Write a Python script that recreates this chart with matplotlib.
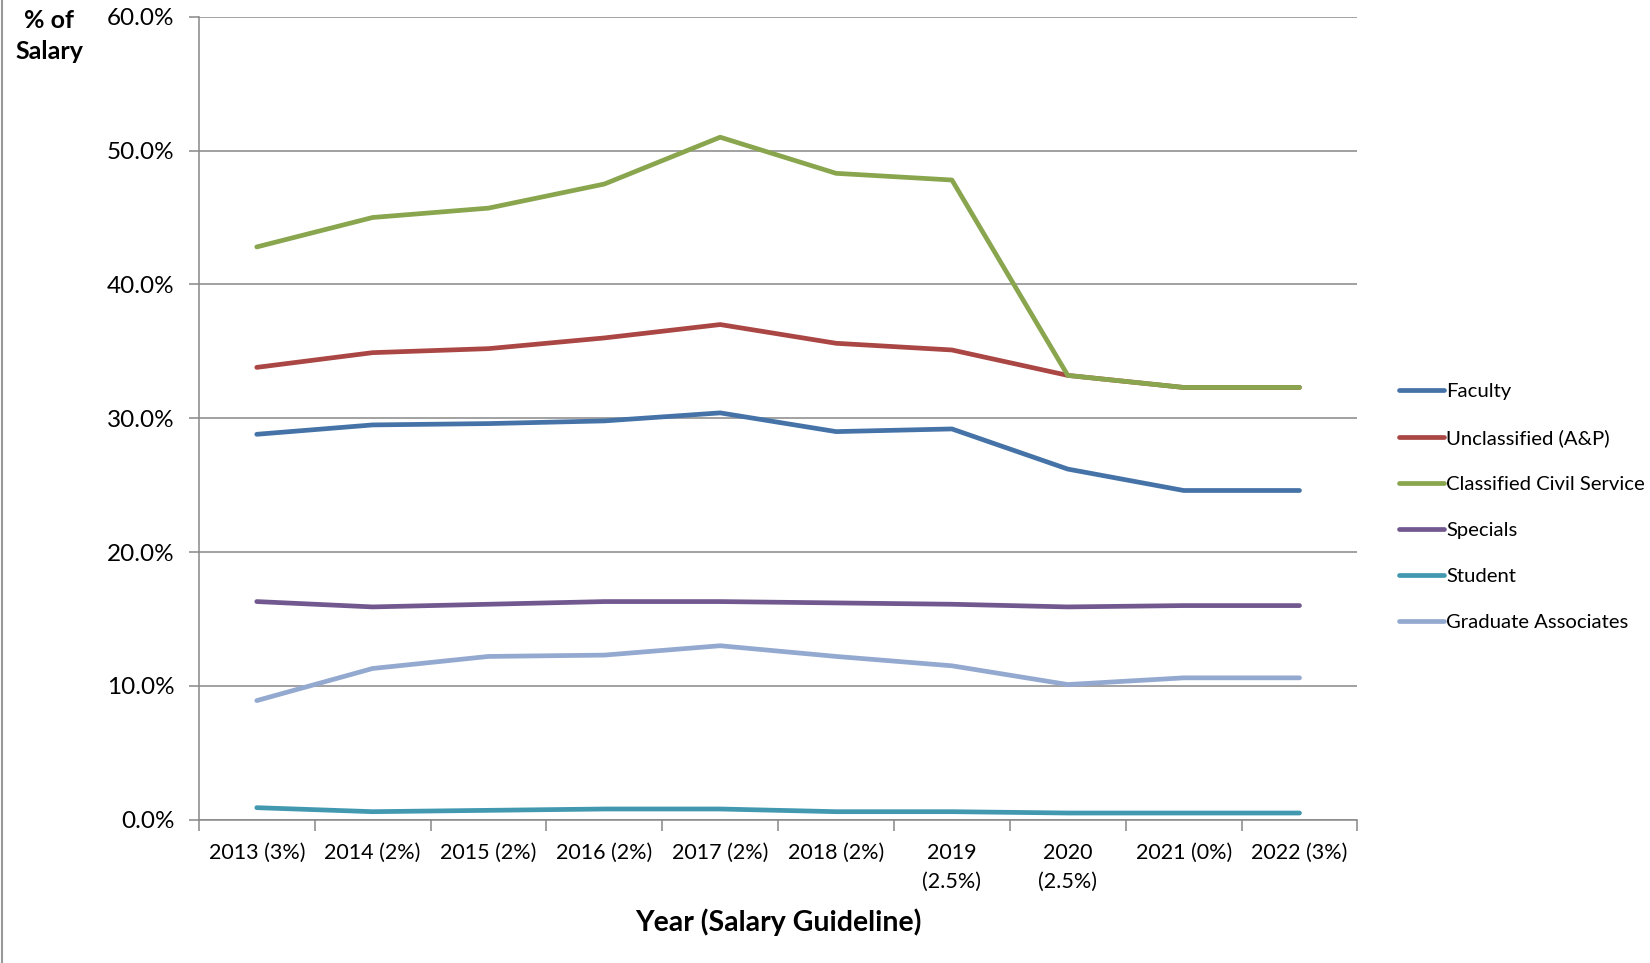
import matplotlib.pyplot as plt
from matplotlib.lines import Line2D
from matplotlib.ticker import FuncFormatter, FixedLocator
import numpy as np

plt.rcParams['font.family'] = ['Lato', 'DejaVu Sans']

years = ['2013 (3%)', '2014 (2%)', '2015 (2%)', '2016 (2%)', '2017 (2%)',
         '2018 (2%)', '2019\n(2.5%)', '2020\n(2.5%)', '2021 (0%)', '2022 (3%)']

faculty = [28.8, 29.5, 29.6, 29.8, 30.4, 29.0, 29.2, 26.2, 24.6, 24.6]
unclassified = [33.8, 34.9, 35.2, 36.0, 37.0, 35.6, 35.1, 33.2, 32.3, 32.3]
classified = [42.8, 45.0, 45.7, 47.5, 51.0, 48.3, 47.8, 33.2, 32.3, 32.3]
specials = [16.3, 15.9, 16.1, 16.3, 16.3, 16.2, 16.1, 15.9, 16.0, 16.0]
student = [0.9, 0.6, 0.7, 0.8, 0.8, 0.6, 0.6, 0.5, 0.5, 0.5]
grad_assoc = [8.9, 11.3, 12.2, 12.3, 13.0, 12.2, 11.5, 10.1, 10.6, 10.6]

series = [
    ('Faculty', faculty, '#4572A7'),
    ('Unclassified (A&P)', unclassified, '#AA4643'),
    ('Classified Civil Service', classified, '#89A54E'),
    ('Specials', specials, '#71588F'),
    ('Student', student, '#4198AF'),
    ('Graduate Associates', grad_assoc, '#93A9CF'),
]

fig = plt.figure(figsize=(16.5, 9.63), dpi=100)
ax = fig.add_axes([0.1205, 0.1488, 0.8227 - 0.1205, 0.9826 - 0.1488])

x = np.arange(len(years))
for name, vals, col in series:
    ax.plot(x, vals, color=col, linewidth=3.4, label=name,
            solid_capstyle='round', solid_joinstyle='round')

grid_col = '#888888'
ax.set_xlim(-0.5, len(years) - 0.5)
ax.set_ylim(0, 60)
ax.set_yticks(np.arange(0, 61, 10))
ax.yaxis.set_major_formatter(FuncFormatter(lambda v, p: f'{v:.1f}%'))
ax.yaxis.grid(True, color=grid_col, linewidth=1.1)
ax.set_axisbelow(True)

# category labels centred, tick marks between categories
ax.set_xticks(x)
ax.set_xticklabels(years, linespacing=1.55)
ax.xaxis.set_minor_locator(FixedLocator(np.arange(-0.5, len(years), 1.0)))
ax.tick_params(axis='x', which='major', length=0, pad=17, labelsize=15.5)
ax.tick_params(axis='x', which='minor', length=8, width=1.1, color=grid_col)
ax.tick_params(axis='y', length=7, width=1.1, color=grid_col, pad=10.5, labelsize=17.5)

for side in ['top', 'right']:
    ax.spines[side].set_visible(False)
for side in ['left', 'bottom']:
    ax.spines[side].set_color(grid_col)
    ax.spines[side].set_linewidth(1.1)

ax.set_xlabel('Year (Salary Guideline)', fontsize=20.5, fontweight='bold', labelpad=12)
fig.text(49 / 1650, 1 - 36 / 963, '% of\nSalary', fontsize=18, fontweight='bold',
         ha='center', va='center', linespacing=1.45)

ax.legend(loc='center left', bbox_to_anchor=(0.837, 0.4735),
          bbox_transform=fig.transFigure, frameon=False, fontsize=14.6,
          handlelength=2.2, handletextpad=0.12, labelspacing=1.43)

# chart border on the left edge
fig.add_artist(Line2D([0.0015, 0.0015], [0, 1], transform=fig.transFigure,
                      color='#999999', linewidth=1.5))

fig.savefig('out.png', dpi=100)
